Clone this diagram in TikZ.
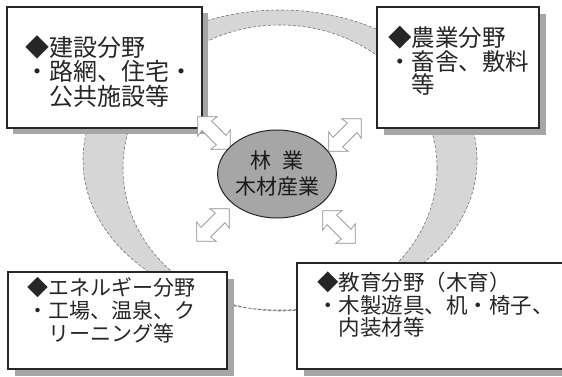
\documentclass[tikz,border=0pt]{standalone}
\usepackage{fontspec}
\newfontfamily\jp{Noto Sans CJK JP}
\usetikzlibrary{shapes.geometric,shapes.arrows}
\tikzset{
  boxshadow/.style={fill=black!35, draw=none},
  fieldbox/.style={draw=black!85, line width=1.2pt, fill=white},
  boxtext/.style={anchor=north west, inner sep=0pt, align=left, text=black!85},
  dblarrow/.style={double arrow, draw=black!45, line width=0.6pt, fill=white,
    minimum height=46pt, double arrow head extend=7pt,
    double arrow head indent=1pt, inner sep=0pt},
}
\newcommand{\shaftstrut}{\rule{0pt}{13pt}}
\begin{document}
\begin{tikzpicture}[x=1pt,y=-1pt]
\useasboundingbox (0,0) rectangle (562,377);
\clip (0,0) rectangle (562,377);
\fill[white] (0,0) rectangle (562,377);
% ring
\path[fill=black!16, even odd rule, draw=black!55, densely dashed, line width=0.6pt]
  (280,160) ellipse [x radius=197pt, y radius=150pt]
  (280,168) ellipse [x radius=157pt, y radius=143pt];
% shadows
\fill[boxshadow] (13,13) rectangle (208,134);
\fill[boxshadow] (384,14) rectangle (546,135);
\fill[boxshadow] (15,279) rectangle (234,376);
\fill[boxshadow] (304,270) rectangle (570,376);
% boxes
\path[fieldbox] (7,7) rectangle (202,128) coordinate (b1);
\path[fieldbox] (377,7) rectangle (539,128) coordinate (b2);
\path[fieldbox] (8,272) rectangle (227,369) coordinate (b3);
\path[fieldbox] (297,263) rectangle (566,369) coordinate (b4);
% texts
\node[boxtext, font={\jp\fontsize{24}{24.5}\selectfont}] (t1) at (25,35)
  {◆建設分野\\・路網、住宅・\\　公共施設等};
\node[boxtext, font={\jp\fontsize{23.5}{23.5}\selectfont}] (t2) at (388,26)
  {◆農業分野\\・畜舎、敷料\\　等};
\node[boxtext, font={\jp\fontsize{21}{23}\selectfont}] (t3) at (27,277)
  {◆エネルギー分野\\・工場、温泉、ク\\　リーニング等};
\node[boxtext, font={\jp\fontsize{21.5}{22.5}\selectfont}] (t4) at (317,272)
  {◆教育分野（木育）\\・木製遊具、机・椅子、\\　内装材等};
% arrows
\node[dblarrow, rotate=-45] (a1) at (214,133) {\shaftstrut};
\node[dblarrow, rotate=45] (a2) at (345,135) {\shaftstrut};
\node[dblarrow, rotate=45] (a3) at (213,225) {\shaftstrut};
\node[dblarrow, rotate=-45] (a4) at (339,227) {\shaftstrut};
% center
\node[ellipse, draw=black!85, line width=1pt, fill=black!35, minimum width=110pt,
  minimum height=88pt, inner sep=0pt, align=center, text=black!90,
  font={\jp\fontsize{21}{26}\selectfont}] (c) at (277,174) {林\hspace{0.5em}業\\木材産業};
\end{tikzpicture}
\end{document}
